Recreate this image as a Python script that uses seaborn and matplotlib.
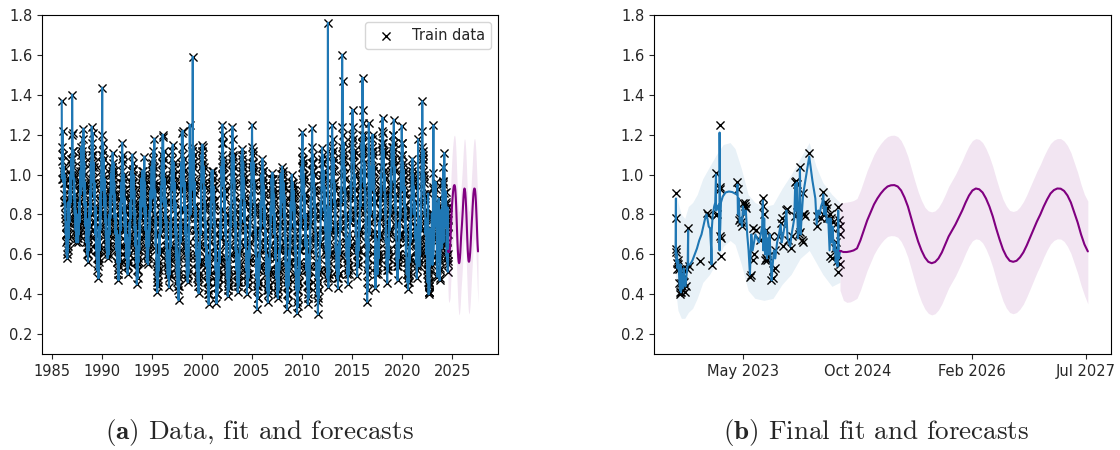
import matplotlib
matplotlib.use("Agg")
import matplotlib.pyplot as plt
import numpy as np
import pandas as pd
import seaborn as sns

# --- data ---

# history on the 1st and 15th of each month, one row per year
hist_1980s = [  # 1986-1989
    [1.37, 1.07, 1.22, 1.10, 0.98, 1.04, 0.86, 0.96, 0.78, 0.84, 0.70, 0.76, 0.60, 0.67, 0.755, 0.62, 0.863, 0.70, 0.78, 0.92, 0.84, 1.00, 0.96, 1.08],
    [1.00, 1.40, 1.21, 1.04, 1.12, 0.94, 0.98, 0.84, 0.90, 0.76, 0.82, 0.70, 0.74, 0.80, 0.68, 0.72, 0.78, 0.70, 0.86, 0.76, 0.92, 1.02, 0.96, 1.10],
    [1.08, 0.96, 1.18, 1.02, 1.23, 0.92, 1.06, 0.84, 0.94, 0.74, 0.80, 0.66, 0.72, 0.60, 0.68, 0.563, 0.64, 0.74, 0.70, 0.84, 0.92, 0.80, 1.06, 0.98],
    [1.24, 1.04, 1.21, 1.10, 0.96, 1.06, 0.88, 0.94, 0.76, 0.84, 0.66, 0.74, 0.58, 0.66, 0.54, 0.62, 0.48, 0.58, 0.70, 0.62, 0.82, 0.90, 0.80, 1.02],
]
hist_1990s = [
    [1.10, 1.435, 1.00, 1.16, 0.92, 1.04, 0.84, 0.94, 0.76, 0.86, 0.68, 0.78, 0.62, 0.70, 0.58, 0.66, 0.72, 0.60, 0.80, 0.70, 0.90, 0.82, 1.00, 0.94],
    [1.04, 0.92, 1.11, 0.98, 1.06, 0.86, 0.96, 0.78, 0.88, 0.70, 0.80, 0.62, 0.70, 0.56, 0.62, 0.50, 0.47, 0.58, 0.66, 0.56, 0.76, 0.86, 0.78, 0.96],
    [1.02, 1.16, 0.90, 1.06, 0.96, 0.82, 0.92, 0.74, 0.84, 0.66, 0.76, 0.58, 0.66, 0.54, 0.50, 0.62, 0.56, 0.68, 0.60, 0.76, 0.70, 0.86, 0.96, 0.88],
    [0.96, 1.10, 1.03, 0.88, 1.00, 0.80, 0.92, 0.72, 0.82, 0.64, 0.74, 0.56, 0.45, 0.60, 0.52, 0.64, 0.56, 0.70, 0.62, 0.78, 0.72, 0.88, 0.82, 0.98],
    [0.90, 0.84, 0.98, 0.86, 1.02, 0.92, 1.09, 0.80, 0.90, 0.72, 0.82, 0.64, 0.56, 0.70, 0.60, 0.55, 0.66, 0.74, 0.68, 0.82, 0.76, 0.92, 0.86, 1.00],
    [1.02, 0.88, 1.08, 0.94, 1.12, 0.96, 1.18, 0.86, 0.92, 0.70, 0.78, 0.56, 0.48, 0.41, 0.54, 0.46, 0.60, 0.52, 0.70, 0.62, 0.82, 0.74, 0.94, 0.86],
    [1.06, 0.94, 1.20, 1.19, 0.98, 1.08, 0.84, 0.96, 0.76, 0.86, 0.64, 0.74, 0.56, 0.64, 0.50, 0.58, 0.48, 0.435, 0.56, 0.50, 0.70, 0.64, 0.86, 0.98],
    [1.08, 0.94, 1.15, 1.00, 0.92, 1.06, 0.82, 0.94, 0.70, 0.80, 0.58, 0.68, 0.50, 0.60, 0.44, 0.52, 0.37, 0.48, 0.58, 0.66, 0.76, 0.68, 0.92, 1.06],
    [1.21, 0.98, 1.22, 1.04, 0.94, 1.08, 0.82, 0.96, 0.70, 0.84, 0.60, 0.72, 0.50, 0.62, 0.46, 0.56, 0.52, 0.66, 0.78, 1.25, 0.88, 0.80, 1.02, 0.92],
    [1.12, 1.02, 1.59, 1.06, 0.94, 1.10, 0.84, 0.96, 0.72, 0.84, 0.60, 0.70, 0.52, 0.62, 0.46, 0.56, 0.405, 0.50, 0.62, 0.56, 0.76, 0.70, 0.94, 1.04],
]
hist_2000s = [
    [1.08, 1.15, 1.14, 0.96, 1.04, 0.86, 0.94, 0.76, 0.84, 0.64, 0.72, 0.54, 0.60, 0.46, 0.52, 0.40, 0.35, 0.46, 0.56, 0.50, 0.70, 0.80, 0.74, 0.96],
    [0.90, 1.00, 1.02, 0.86, 0.94, 0.76, 0.84, 0.64, 0.70, 0.52, 0.60, 0.355, 0.46, 0.40, 0.52, 0.44, 0.56, 0.48, 0.62, 0.56, 0.76, 0.68, 0.90, 1.04],
    [1.10, 1.25, 1.16, 1.00, 0.94, 1.04, 0.82, 0.92, 0.70, 0.80, 0.58, 0.66, 0.48, 0.56, 0.39, 0.50, 0.44, 0.58, 0.52, 0.70, 0.64, 0.84, 0.78, 1.02],
    [1.12, 1.24, 1.09, 0.96, 1.04, 0.86, 0.94, 0.74, 0.82, 0.62, 0.70, 0.52, 0.58, 0.46, 0.41, 0.52, 0.46, 0.60, 0.54, 0.72, 0.66, 0.86, 0.80, 1.04],
    [1.02, 1.13, 0.94, 1.06, 0.88, 0.98, 0.76, 0.86, 0.64, 0.74, 0.52, 0.62, 0.40, 0.50, 0.44, 0.56, 0.50, 0.64, 0.58, 0.76, 0.70, 0.90, 0.84, 1.06],
    [1.25, 1.04, 1.12, 0.96, 1.02, 0.86, 0.92, 0.72, 0.80, 0.60, 0.68, 0.48, 0.325, 0.44, 0.38, 0.52, 0.46, 0.60, 0.54, 0.72, 0.66, 0.86, 0.80, 1.00],
    [0.96, 1.08, 0.92, 1.02, 0.84, 0.94, 0.74, 0.84, 0.62, 0.72, 0.50, 0.60, 0.42, 0.52, 0.36, 0.48, 0.44, 0.58, 0.52, 0.70, 0.64, 0.84, 0.78, 0.98],
    [0.94, 1.01, 0.88, 0.98, 0.80, 0.90, 0.70, 0.80, 0.58, 0.68, 0.48, 0.56, 0.44, 0.50, 0.38, 0.52, 0.48, 0.62, 0.56, 0.74, 0.68, 1.005, 0.82, 0.96],
    [1.04, 0.92, 1.00, 0.86, 0.94, 0.78, 0.86, 0.66, 0.74, 0.54, 0.62, 0.44, 0.325, 0.46, 0.40, 0.54, 0.48, 0.62, 0.56, 0.74, 0.68, 0.86, 0.80, 0.96],
    [0.958, 0.86, 0.94, 0.82, 0.90, 0.74, 0.82, 0.62, 0.70, 0.50, 0.58, 0.42, 0.305, 0.44, 0.38, 0.52, 0.46, 0.62, 0.56, 0.74, 0.68, 0.88, 0.82, 1.04],
]
hist_2010s = [
    [1.08, 1.213, 1.00, 1.06, 0.90, 0.96, 0.78, 0.86, 0.64, 0.74, 0.52, 0.62, 0.44, 0.54, 0.35, 0.48, 0.44, 0.60, 0.54, 0.74, 0.68, 0.88, 0.82, 1.02],
    [1.235, 1.06, 1.10, 0.94, 1.00, 0.84, 0.90, 0.72, 0.78, 0.60, 0.66, 0.48, 0.54, 0.40, 0.30, 0.46, 0.42, 0.58, 0.52, 0.72, 0.66, 0.86, 0.80, 1.00],
    [1.135, 0.98, 1.06, 0.92, 0.98, 0.82, 0.90, 0.72, 0.80, 0.62, 0.70, 0.54, 0.60, 0.48, 1.76, 0.435, 0.56, 0.50, 0.66, 0.60, 0.78, 0.72, 0.90, 1.02],
    [1.247, 1.06, 1.12, 0.96, 1.02, 0.86, 0.92, 0.74, 0.80, 0.62, 0.70, 0.52, 0.58, 0.48, 0.43, 0.56, 0.50, 0.66, 0.60, 0.78, 0.72, 0.92, 0.86, 1.08],
    [1.60, 1.47, 1.12, 1.04, 1.08, 0.92, 0.98, 0.80, 0.86, 0.68, 0.74, 0.58, 0.62, 0.50, 0.45, 0.58, 0.54, 0.70, 0.64, 0.82, 0.76, 0.96, 0.90, 1.10],
    [1.14, 1.325, 1.18, 1.06, 1.10, 0.94, 1.00, 0.82, 0.88, 0.70, 0.76, 0.60, 0.49, 0.62, 0.56, 0.68, 0.62, 0.78, 0.72, 0.90, 0.84, 1.02, 0.96, 1.16],
    [1.20, 1.485, 1.325, 1.08, 1.12, 0.94, 1.00, 0.82, 0.86, 0.66, 0.72, 0.52, 0.363, 0.50, 0.58, 0.66, 1.258, 0.74, 0.70, 0.86, 0.80, 0.98, 0.92, 1.12],
    [1.08, 1.20, 1.02, 1.10, 0.92, 0.98, 0.78, 0.86, 0.43, 0.62, 0.68, 0.54, 0.60, 0.50, 0.56, 0.66, 0.60, 0.76, 0.70, 0.88, 0.82, 1.00, 0.94, 1.12],
    [1.14, 1.285, 1.21, 1.04, 1.10, 0.92, 0.98, 0.80, 0.86, 0.66, 0.72, 0.54, 0.458, 0.58, 0.52, 0.68, 0.62, 0.78, 0.72, 0.90, 0.84, 1.02, 0.96, 1.14],
    [1.06, 1.14, 1.20, 1.04, 1.275, 0.96, 1.02, 0.82, 0.88, 0.68, 0.74, 0.56, 0.62, 0.47, 0.54, 0.66, 0.60, 0.76, 0.70, 0.88, 0.82, 1.00, 1.08, 1.245],
]
hist_2020s = [  # 2020 - Jul 2022
    [1.10, 0.98, 1.06, 0.92, 0.98, 0.84, 0.90, 0.72, 0.78, 0.60, 0.66, 0.50, 0.56, 0.46, 0.425, 0.54, 0.50, 0.64, 0.58, 0.76, 0.70, 0.88, 0.82, 1.02],
    [1.04, 0.94, 1.00, 0.88, 0.94, 0.80, 0.86, 0.68, 0.74, 0.56, 0.62, 0.48, 0.66, 0.58, 1.177, 0.70, 0.62, 0.54, 0.66, 0.60, 0.78, 0.72, 0.94, 1.08],
    [1.367, 1.10, 1.02, 1.12, 0.90, 0.98, 0.80, 0.88, 0.70, 0.78, 0.60, 0.66, 0.52, 0.46],
]

# history on the 8th and 22nd of each month, one row per year
mid_1980s = [
    [0.98, 1.14, 1.02, 1.10, 0.96, 0.90, 1.00, 0.80, 0.86, 0.70, 0.74, 0.66, 0.70, 0.58, 0.64, 0.74, 0.68, 0.80, 0.76, 0.90, 0.96, 0.86, 1.06, 1.00],
    [1.08, 1.20, 0.98, 1.12, 1.00, 0.88, 0.94, 0.80, 0.86, 0.72, 0.78, 0.66, 0.68, 0.76, 0.70, 0.66, 0.74, 0.82, 0.78, 0.86, 0.96, 0.90, 1.04, 1.14],
    [1.12, 1.02, 1.10, 0.94, 1.06, 1.00, 0.90, 0.96, 0.80, 0.86, 0.72, 0.78, 0.64, 0.70, 0.60, 0.66, 0.62, 0.70, 0.78, 0.74, 0.86, 0.96, 0.90, 1.10],
    [1.12, 1.16, 1.02, 0.98, 1.04, 0.90, 0.96, 0.82, 0.70, 0.78, 0.62, 0.70, 0.62, 0.52, 0.58, 0.66, 0.56, 0.64, 0.74, 0.80, 0.72, 0.86, 0.96, 1.10],
]
mid_1990s = [
    [1.20, 1.06, 1.12, 0.98, 1.08, 0.88, 0.98, 0.80, 0.90, 0.72, 0.76, 0.64, 0.68, 0.60, 0.64, 0.70, 0.64, 0.74, 0.76, 0.86, 0.78, 0.94, 0.90, 1.02],
    [0.98, 1.04, 1.00, 0.90, 1.02, 0.92, 0.84, 0.90, 0.74, 0.80, 0.66, 0.72, 0.56, 0.64, 0.52, 0.58, 0.54, 0.62, 0.70, 0.64, 0.82, 0.72, 0.92, 0.86],
    [1.08, 0.96, 1.10, 0.98, 0.90, 1.00, 0.82, 0.88, 0.72, 0.80, 0.62, 0.70, 0.58, 0.62, 0.56, 0.54, 0.60, 0.64, 0.74, 0.66, 0.82, 0.78, 0.90, 1.02],
    [1.02, 0.94, 1.06, 0.96, 0.90, 0.86, 0.84, 0.78, 0.76, 0.70, 0.66, 0.62, 0.52, 0.56, 0.48, 0.58, 0.62, 0.66, 0.74, 0.68, 0.84, 0.78, 0.94, 0.90],
    [0.96, 1.02, 0.92, 1.00, 0.94, 0.98, 0.86, 0.96, 0.78, 0.84, 0.70, 0.72, 0.60, 0.66, 0.58, 0.62, 0.70, 0.64, 0.78, 0.72, 0.86, 0.82, 0.98, 1.04],
    [0.94, 1.06, 0.98, 1.02, 0.90, 1.04, 0.94, 0.80, 0.76, 0.64, 0.62, 0.52, 0.54, 0.46, 0.44, 0.50, 0.56, 0.64, 0.60, 0.76, 0.70, 0.86, 0.90, 1.02],
    [0.98, 1.10, 1.06, 1.00, 1.12, 0.92, 0.98, 0.80, 0.88, 0.70, 0.78, 0.60, 0.68, 0.54, 0.62, 0.52, 0.56, 0.50, 0.62, 0.58, 0.76, 0.74, 0.92, 1.02],
    [1.00, 1.12, 1.04, 0.96, 1.00, 0.88, 0.96, 0.76, 0.86, 0.64, 0.74, 0.54, 0.62, 0.46, 0.56, 0.42, 0.50, 0.44, 0.62, 0.72, 0.66, 0.82, 1.00, 0.94],
    [1.10, 1.04, 1.14, 0.98, 1.02, 0.90, 0.94, 0.76, 0.82, 0.64, 0.74, 0.56, 0.64, 0.48, 0.58, 0.50, 0.60, 0.72, 0.86, 0.94, 1.00, 0.90, 0.96, 1.08],
    [1.06, 1.12, 1.04, 1.14, 0.98, 0.92, 0.90, 0.78, 0.80, 0.66, 0.72, 0.56, 0.58, 0.48, 0.52, 0.44, 0.48, 0.56, 0.66, 0.64, 0.82, 0.78, 1.00, 1.10],
]
mid_2000s = [
    [1.12, 1.02, 1.06, 0.98, 0.94, 0.90, 0.82, 0.86, 0.70, 0.76, 0.58, 0.64, 0.50, 0.54, 0.42, 0.46, 0.40, 0.52, 0.60, 0.66, 0.74, 0.86, 0.92, 1.02],
    [0.96, 0.94, 0.98, 0.90, 0.82, 0.86, 0.70, 0.76, 0.58, 0.64, 0.46, 0.40, 0.52, 0.44, 0.48, 0.50, 0.52, 0.60, 0.58, 0.68, 0.72, 0.82, 0.96, 1.00],
    [1.16, 1.06, 1.20, 1.08, 0.98, 0.90, 0.88, 0.78, 0.76, 0.66, 0.64, 0.54, 0.52, 0.44, 0.46, 0.42, 0.52, 0.48, 0.64, 0.60, 0.78, 0.74, 0.94, 1.08],
    [1.06, 1.18, 1.02, 1.10, 0.92, 0.98, 0.80, 0.88, 0.68, 0.76, 0.58, 0.62, 0.50, 0.52, 0.46, 0.44, 0.56, 0.50, 0.66, 0.62, 0.80, 0.76, 0.96, 1.10],
    [1.08, 1.04, 1.00, 0.98, 0.96, 0.90, 0.84, 0.78, 0.72, 0.66, 0.58, 0.54, 0.46, 0.44, 0.50, 0.48, 0.56, 0.58, 0.66, 0.70, 0.80, 0.84, 0.96, 1.02],
    [1.14, 1.10, 1.04, 1.06, 0.94, 0.96, 0.82, 0.84, 0.70, 0.72, 0.56, 0.58, 0.42, 0.38, 0.46, 0.44, 0.54, 0.52, 0.66, 0.62, 0.78, 0.74, 0.92, 0.96],
    [1.04, 0.98, 1.02, 0.96, 0.90, 0.88, 0.80, 0.78, 0.68, 0.66, 0.56, 0.54, 0.46, 0.44, 0.42, 0.40, 0.50, 0.52, 0.60, 0.64, 0.74, 0.76, 0.90, 0.94],
    [0.98, 0.90, 0.96, 0.92, 0.86, 0.84, 0.76, 0.74, 0.64, 0.62, 0.52, 0.50, 0.40, 0.46, 0.44, 0.42, 0.54, 0.52, 0.64, 0.62, 0.76, 0.80, 0.90, 0.94],
    [0.98, 1.02, 0.94, 0.96, 0.84, 0.90, 0.72, 0.80, 0.60, 0.68, 0.50, 0.56, 0.40, 0.36, 0.48, 0.44, 0.56, 0.52, 0.66, 0.62, 0.78, 0.74, 0.90, 1.00],
    [0.90, 0.96, 0.88, 0.92, 0.80, 0.86, 0.68, 0.76, 0.56, 0.64, 0.48, 0.52, 0.36, 0.34, 0.46, 0.42, 0.54, 0.50, 0.66, 0.62, 0.78, 0.74, 0.92, 0.98],
]
mid_2010s = [
    [1.12, 1.04, 1.08, 0.98, 1.00, 0.88, 0.90, 0.76, 0.80, 0.64, 0.68, 0.52, 0.56, 0.40, 0.44, 0.38, 0.52, 0.48, 0.66, 0.62, 0.80, 0.76, 0.94, 1.06],
    [1.14, 1.02, 1.06, 1.00, 0.92, 0.94, 0.80, 0.84, 0.68, 0.70, 0.54, 0.56, 0.44, 0.46, 0.36, 0.38, 0.50, 0.52, 0.64, 0.66, 0.78, 0.80, 0.92, 1.08],
    [1.06, 1.10, 1.00, 1.02, 0.90, 0.94, 0.80, 0.84, 0.70, 0.72, 0.60, 0.62, 0.52, 0.54, 0.50, 0.48, 0.60, 0.62, 0.70, 0.72, 0.84, 0.86, 0.96, 1.10],
    [1.14, 1.18, 1.06, 1.08, 0.94, 0.96, 0.84, 0.86, 0.72, 0.74, 0.60, 0.64, 0.52, 0.56, 0.48, 0.50, 0.60, 0.62, 0.72, 0.74, 0.86, 0.88, 1.00, 1.14],
    [1.24, 1.20, 1.10, 1.16, 1.00, 1.04, 0.90, 0.92, 0.78, 0.80, 0.66, 0.68, 0.56, 0.54, 0.52, 0.50, 0.62, 0.66, 0.76, 0.78, 0.88, 0.92, 1.04, 1.16],
    [1.20, 1.10, 1.24, 1.12, 1.04, 1.00, 0.92, 0.88, 0.80, 0.76, 0.66, 0.64, 0.56, 0.54, 0.60, 0.62, 0.70, 0.72, 0.82, 0.86, 0.94, 0.98, 1.08, 1.12],
    [1.16, 1.26, 1.14, 1.20, 1.02, 1.06, 0.90, 0.92, 0.76, 0.78, 0.62, 0.58, 0.46, 0.42, 0.54, 0.62, 0.70, 0.80, 0.76, 0.92, 0.88, 1.04, 1.02, 1.18],
    [1.14, 1.02, 1.12, 0.96, 1.04, 0.86, 0.90, 0.70, 0.54, 0.50, 0.62, 0.58, 0.52, 0.56, 0.62, 0.58, 0.70, 0.68, 0.80, 0.78, 0.92, 0.90, 1.04, 1.16],
    [1.22, 1.10, 1.16, 1.12, 1.02, 1.00, 0.88, 0.90, 0.76, 0.74, 0.62, 0.60, 0.52, 0.54, 0.60, 0.58, 0.70, 0.72, 0.82, 0.80, 0.94, 0.92, 1.04, 1.08],
    [1.10, 1.20, 1.12, 1.16, 1.08, 1.04, 0.94, 0.90, 0.80, 0.76, 0.66, 0.62, 0.54, 0.56, 0.60, 0.58, 0.70, 0.68, 0.80, 0.78, 0.94, 0.92, 1.10, 1.16],
]
mid_2020s = [
    [1.16, 1.04, 1.00, 1.02, 0.90, 0.94, 0.80, 0.84, 0.68, 0.72, 0.56, 0.58, 0.50, 0.48, 0.52, 0.46, 0.58, 0.56, 0.68, 0.66, 0.82, 0.80, 0.96, 1.00],
    [1.08, 0.98, 0.96, 0.94, 0.90, 0.84, 0.80, 0.74, 0.68, 0.62, 0.58, 0.52, 0.54, 0.62, 0.76, 0.64, 0.58, 0.56, 0.62, 0.68, 0.74, 0.86, 1.00, 1.14],
    [1.22, 1.06, 1.08, 0.96, 1.00, 0.90, 0.86, 0.82, 0.74, 0.70, 0.64, 0.58, 0.50, 0.48],
]

# last two years of observations: (days after 2022-08-01, value)
recent_obs = [
    (1, 0.905), (1, 0.78), (2, 0.627), (3, 0.61), (4, 0.555), (5, 0.525), (8, 0.572), (11, 0.55),
    (14, 0.525), (16, 0.455), (18, 0.413), (20, 0.40), (22, 0.41), (25, 0.455), (28, 0.44), (31, 0.50),
    (34, 0.53), (38, 0.46), (41, 0.41), (46, 0.44), (52, 0.525), (55, 0.73), (57, 0.54),
    (109, 0.568), (137, 0.805), (141, 0.797), (159, 0.547), (177, 0.797), (178, 1.008), (182, 0.80),
    (194, 1.247), (195, 0.935), (196, 0.925), (197, 0.69), (198, 0.68), (199, 0.59),
    (273, 0.963), (275, 0.925), (279, 0.77), (282, 0.78), (287, 0.76), (293, 0.74), (297, 0.855),
    (304, 0.84), (306, 0.855), (310, 0.83),
    (328, 0.488), (334, 0.497), (341, 0.73), (342, 0.57), (347, 0.60), (356, 0.72), (371, 0.67),
    (385, 0.88), (387, 0.84), (390, 0.80), (393, 0.57), (399, 0.58), (400, 0.72), (405, 0.57),
    (408, 0.59), (415, 0.69), (422, 0.47), (429, 0.52), (431, 0.48), (437, 0.62), (438, 0.53),
    (452, 0.69), (466, 0.755), (468, 0.78), (474, 0.64), (488, 0.82), (490, 0.825), (496, 0.67),
    (510, 0.63), (515, 0.69), (525, 0.79), (528, 0.963), (531, 0.97), (537, 0.95), (537, 0.81),
    (546, 0.70), (549, 1.04), (549, 0.71), (556, 0.67), (561, 0.80), (561, 0.66), (563, 0.905),
    (567, 0.80), (570, 0.79),
    (590, 1.108), (623, 0.79), (623, 0.74), (640, 0.78), (649, 0.80), (652, 0.913), (658, 0.86),
    (664, 0.85), (667, 0.83), (670, 0.78), (681, 0.80), (681, 0.59), (684, 0.78), (689, 0.73),
    (689, 0.58), (697, 0.76), (703, 0.63), (708, 0.66), (711, 0.565), (714, 0.60), (718, 0.835),
    (718, 0.513), (722, 0.77), (724, 0.70), (725, 0.74), (725, 0.55),
]

# final-fit mean path: (days after 2022-08-01, value)
final_fit = [
    (0, 0.60), (1, 0.88), (1, 0.60), (2, 0.62), (4, 0.56), (6, 0.60), (8, 0.53), (11, 0.57),
    (14, 0.52), (17, 0.45), (19, 0.42), (21, 0.55), (23, 0.41), (26, 0.44), (29, 0.50), (32, 0.43),
    (35, 0.53), (39, 0.46), (43, 0.44), (48, 0.50), (53, 0.55), (55, 0.72), (55, 0.55), (57, 0.55),
    (64, 0.55), (74, 0.57), (84, 0.60), (94, 0.63), (104, 0.67), (114, 0.70), (122, 0.74),
    (130, 0.78), (136, 0.80), (140, 0.78), (146, 0.74), (152, 0.73), (157, 0.62), (158, 0.55),
    (159, 0.72), (164, 0.80), (170, 0.84), (175, 0.86), (178, 1.00), (178, 0.82), (180, 0.82),
    (186, 0.84), (191, 0.85), (194, 0.62), (194, 1.21), (196, 0.72), (200, 0.86), (208, 0.89),
    (220, 0.91), (235, 0.915), (250, 0.912), (262, 0.905), (270, 0.90), (273, 0.95), (275, 0.80),
    (279, 0.88), (283, 0.76), (288, 0.78), (293, 0.74), (297, 0.84), (303, 0.80), (310, 0.82),
    (316, 0.70), (322, 0.62), (328, 0.50), (334, 0.70), (340, 0.62), (346, 0.66), (352, 0.70),
    (360, 0.68), (368, 0.66), (376, 0.70), (382, 0.74), (385, 0.87), (387, 0.62), (391, 0.78),
    (395, 0.60), (399, 0.72), (403, 0.58), (407, 0.68), (411, 0.60), (415, 0.70), (420, 0.56),
    (424, 0.47), (428, 0.54), (434, 0.62), (440, 0.58), (448, 0.66), (456, 0.70), (464, 0.75),
    (468, 0.66), (472, 0.68), (478, 0.72), (484, 0.76), (489, 0.82), (494, 0.68), (500, 0.66),
    (506, 0.64), (512, 0.70), (518, 0.74), (524, 0.78), (528, 0.95), (531, 0.82), (535, 0.96),
    (540, 0.68), (545, 0.80), (549, 1.03), (552, 0.70), (557, 0.80), (563, 0.90), (570, 0.95),
    (577, 1.00), (584, 1.05), (590, 1.09), (597, 1.03), (604, 0.97), (611, 0.92), (617, 0.88),
    (623, 0.75), (630, 0.82), (636, 0.80), (642, 0.84), (648, 0.86), (652, 0.90), (656, 0.80),
    (662, 0.84), (668, 0.76), (674, 0.78), (680, 0.62), (684, 0.78), (688, 0.66), (693, 0.74),
    (698, 0.62), (703, 0.66), (707, 0.56), (711, 0.62), (715, 0.54), (718, 0.82), (721, 0.58),
    (725, 0.61),
]

# final-fit uncertainty band: (days after 2022-08-01, lower, upper)
final_band = [
    (0, 0.42, 0.93), (10, 0.32, 0.86), (25, 0.28, 0.80), (40, 0.28, 0.78), (56, 0.31, 0.84),
    (75, 0.33, 0.86), (95, 0.38, 0.90), (120, 0.46, 0.98), (150, 0.50, 1.04), (180, 0.56, 1.10),
    (210, 0.64, 1.15), (240, 0.67, 1.16), (262, 0.65, 1.13), (290, 0.55, 1.03), (320, 0.42, 0.90),
    (350, 0.38, 0.86), (390, 0.37, 0.84), (430, 0.38, 0.85), (470, 0.45, 0.93), (510, 0.50, 1.00),
    (550, 0.58, 1.08), (590, 0.62, 1.16), (620, 0.56, 1.04), (650, 0.50, 0.96), (690, 0.44, 0.90),
    (725, 0.46, 0.86),
]

# forecast, every 15 days from 2024-07-27
fc_mean = [0.618, 0.612, 0.612, 0.615, 0.62, 0.63, 0.67, 0.72, 0.77, 0.81,
           0.85, 0.88, 0.905, 0.925, 0.94, 0.946, 0.947, 0.94, 0.92, 0.885,
           0.84, 0.78, 0.72, 0.665, 0.62, 0.585, 0.563, 0.556, 0.562, 0.58,
           0.61, 0.65, 0.69, 0.72, 0.75, 0.785, 0.82, 0.86, 0.895, 0.92,
           0.93, 0.926, 0.91, 0.88, 0.84, 0.79, 0.73, 0.675, 0.625, 0.59,
           0.568, 0.563, 0.568, 0.585, 0.61, 0.645, 0.685, 0.725, 0.765, 0.80,
           0.84, 0.875, 0.905, 0.922, 0.93, 0.929, 0.918, 0.895, 0.86, 0.81,
           0.76, 0.70, 0.65, 0.615]
fc_lo = [0.42, 0.37, 0.36, 0.362, 0.37, 0.38, 0.42, 0.47, 0.52, 0.56,
         0.60, 0.63, 0.655, 0.675, 0.69, 0.694, 0.693, 0.686, 0.665, 0.63,
         0.585, 0.525, 0.465, 0.408, 0.362, 0.327, 0.305, 0.297, 0.303, 0.322,
         0.352, 0.392, 0.432, 0.462, 0.492, 0.528, 0.565, 0.606, 0.642, 0.668,
         0.678, 0.674, 0.658, 0.627, 0.586, 0.535, 0.474, 0.418, 0.367, 0.331,
         0.309, 0.303, 0.309, 0.326, 0.351, 0.387, 0.427, 0.468, 0.509, 0.545,
         0.586, 0.622, 0.652, 0.67, 0.678, 0.677, 0.665, 0.64, 0.605, 0.555,
         0.505, 0.445, 0.395, 0.352]
fc_hi = [0.855, 0.86, 0.862, 0.865, 0.87, 0.88, 0.92, 0.97, 1.02, 1.06,
         1.10, 1.13, 1.155, 1.175, 1.19, 1.196, 1.197, 1.19, 1.17, 1.135,
         1.09, 1.03, 0.97, 0.915, 0.87, 0.836, 0.818, 0.813, 0.818, 0.835,
         0.864, 0.90, 0.94, 0.97, 1.00, 1.035, 1.07, 1.11, 1.145, 1.17,
         1.18, 1.176, 1.16, 1.13, 1.09, 1.04, 0.98, 0.925, 0.876, 0.842,
         0.82, 0.815, 0.82, 0.838, 0.864, 0.898, 0.938, 0.977, 1.016, 1.05,
         1.09, 1.125, 1.155, 1.172, 1.18, 1.18, 1.168, 1.145, 1.11, 1.06,
         1.01, 0.95, 0.90, 0.867]

year_ticks = [1985, 1990, 1995, 2000, 2005, 2010, 2015, 2020, 2025]
right_ticks = ["2023-05-25", "2024-10-11", "2026-02-28", "2027-07-18"]
right_tick_labels = ["May 2023", "Oct 2024", "Feb 2026", "Jul 2027"]
y_ticks = [0.2, 0.4, 0.6, 0.8, 1.0, 1.2, 1.4, 1.6, 1.8]

# --- build frames ---
base = pd.Timestamp("2022-08-01")

hist_rows = []
blocks = [(1986, hist_1980s, mid_1980s), (1990, hist_1990s, mid_1990s),
          (2000, hist_2000s, mid_2000s), (2010, hist_2010s, mid_2010s),
          (2020, hist_2020s, mid_2020s)]
for start, rows_a, rows_b in blocks:
    for i, (va, vb) in enumerate(zip(rows_a, rows_b)):
        da = pd.date_range(f"{start + i}-01-01", periods=len(va), freq="SMS")
        db = pd.date_range(f"{start + i}-01-01", periods=len(vb), freq="SMS") + pd.Timedelta(days=7)
        hist_rows.append(pd.DataFrame({"date": da, "value": va}))
        hist_rows.append(pd.DataFrame({"date": db, "value": vb}))
hist = pd.concat(hist_rows, ignore_index=True).sort_values("date", kind="stable")

recent = pd.DataFrame(recent_obs, columns=["day", "value"])
recent["date"] = base + pd.to_timedelta(recent["day"], unit="D")

train = pd.concat([hist, recent[["date", "value"]]], ignore_index=True)

fit = pd.DataFrame(final_fit, columns=["day", "value"])
fit["date"] = base + pd.to_timedelta(fit["day"], unit="D")

band = pd.DataFrame(final_band, columns=["day", "lo", "hi"])
band["date"] = base + pd.to_timedelta(band["day"], unit="D")

fc = pd.DataFrame({"mean": fc_mean, "lo": fc_lo, "hi": fc_hi})
fc["date"] = pd.date_range("2024-07-27", periods=len(fc), freq="15D")

# --- plot ---
sns.set_style("ticks")
plt.rcParams["font.family"] = ["DejaVu Sans"]
plt.rcParams["mathtext.fontset"] = "cm"

fig = plt.figure(figsize=(11.2, 4.5), dpi=100)
ax1 = fig.add_axes([0.0375, 0.2127, 0.4074, 0.7546])
ax2 = fig.add_axes([0.5839, 0.2127, 0.4078, 0.7546])

# (a) full data, fit and forecasts
sns.scatterplot(data=train, x="date", y="value", ax=ax1, marker="x", color="black",
                s=34, linewidth=1.0, label="Train data")
sns.lineplot(data=train, x="date", y="value", ax=ax1, color="#1f77b4", lw=1.5,
             estimator=None, sort=False)
ax1.fill_between(fc["date"], fc["lo"], fc["hi"], color="purple", alpha=0.1, lw=0)
sns.lineplot(data=fc, x="date", y="mean", ax=ax1, color="purple", lw=1.5,
             estimator=None, sort=False)
ax1.set_xlim(pd.Timestamp("1984-01-12"), pd.Timestamp("2029-08-05"))
ax1.set_xticks([pd.Timestamp(f"{y}-01-01") for y in year_ticks])
ax1.set_xticklabels([str(y) for y in year_ticks])
ax1.legend(loc="upper right", fontsize=10.5)

# (b) final fit and forecasts
ax2.fill_between(band["date"], band["lo"], band["hi"], color="#1f77b4", alpha=0.1, lw=0)
sns.scatterplot(data=recent, x="date", y="value", ax=ax2, marker="x", color="black",
                s=34, linewidth=1.0)
sns.lineplot(data=fit, x="date", y="value", ax=ax2, color="#1f77b4", lw=1.5,
             estimator=None, sort=False)
ax2.fill_between(fc["date"], fc["lo"], fc["hi"], color="purple", alpha=0.1, lw=0)
sns.lineplot(data=fc, x="date", y="mean", ax=ax2, color="purple", lw=1.5,
             estimator=None, sort=False)
ax2.set_xlim(pd.Timestamp("2022-04-27"), pd.Timestamp("2027-11-05"))
ax2.set_xticks([pd.Timestamp(t) for t in right_ticks])
ax2.set_xticklabels(right_tick_labels)

for ax in (ax1, ax2):
    ax.set_ylim(0.10, 1.80)
    ax.set_yticks(y_ticks)
    ax.set_yticklabels([f"{v:.1f}" for v in y_ticks])
    ax.set_xlabel("")
    ax.set_ylabel("")
    ax.tick_params(labelsize=10.5)
    for sp in ax.spines.values():
        sp.set_color("black")
        sp.set_linewidth(0.8)

fig.text(0.232, 0.04, r"$\mathbf{(a)}$ Data, fit and forecasts", family="cmr10",
         fontsize=19.5, ha="center", va="center")
fig.text(0.782, 0.04, r"$\mathbf{(b)}$ Final fit and forecasts", family="cmr10",
         fontsize=19.5, ha="center", va="center")

fig.savefig("out.png", dpi=100)
